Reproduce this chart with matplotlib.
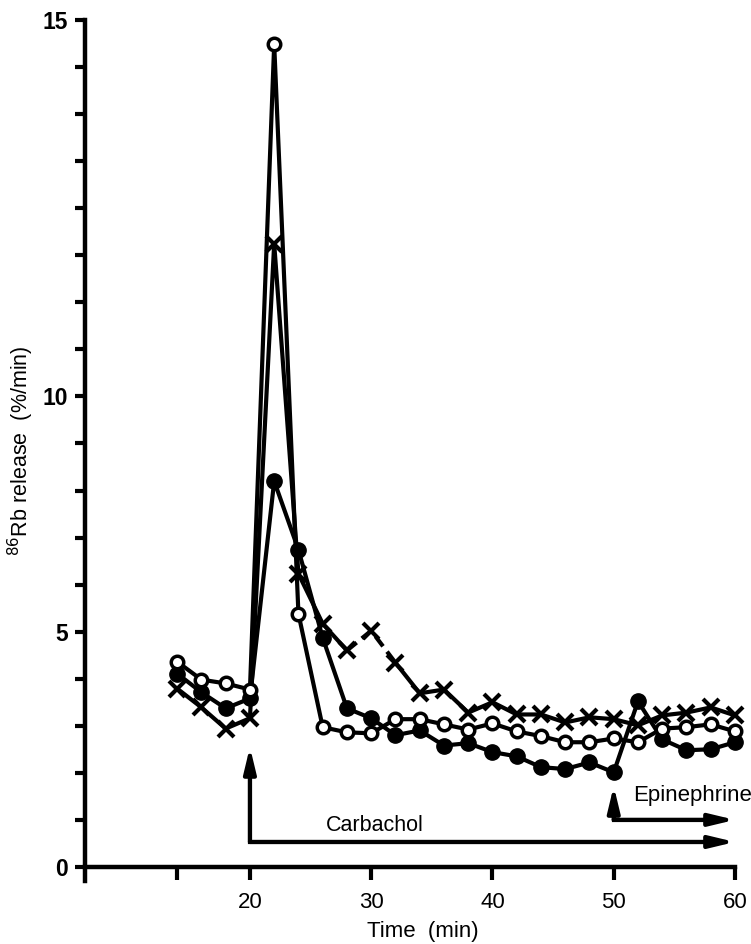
import numpy as np
import matplotlib.pyplot as plt

plt.rcParams['font.family'] = ['Liberation Sans', 'DejaVu Sans']

# Time points (min)
t = [14, 16, 18, 20, 22, 24, 26, 28, 30, 32, 34, 36, 38, 40, 42, 44, 46, 48, 50, 52, 54, 56, 58, 60]

# 86Rb release (%/min) for the three conditions
open_rel = [4.36, 3.98, 3.90, 3.77, 14.68, 5.38, 2.97, 2.86, 2.84, 3.14, 3.14, 3.03,
            2.92, 3.05, 2.88, 2.78, 2.65, 2.65, 2.73, 2.65, 2.94, 2.97, 3.03, 2.88]
filled_rel = [4.11, 3.71, 3.37, 3.58, 8.20, 6.74, 4.87, 3.37, 3.16, 2.80, 2.90, 2.58,
              2.63, 2.44, 2.35, 2.12, 2.08, 2.22, 2.01, 3.52, 2.71, 2.48, 2.50, 2.65]
cross_rel = [3.79, 3.39, 2.94, 3.16, 12.03, 6.23, 5.17, 4.60, 5.02, 4.34, 3.69, 3.77,
             3.28, 3.50, 3.24, 3.24, 3.07, 3.18, 3.14, 3.01, 3.22, 3.28, 3.39, 3.22]

# the upper part of the axis (above 10) is stretched
def fwd(v):
    v = np.asarray(v, dtype=float)
    return np.where(v <= 10, v, 10 + (v - 10) * 1.6)

def inv(v):
    v = np.asarray(v, dtype=float)
    return np.where(v <= 10, v, 10 + (v - 10) / 1.6)

fig = plt.figure(figsize=(7.51, 9.44), dpi=100)
ax = fig.add_axes([0.1132, 0.0667, 0.8655, 0.9121])
ax.set_yscale('function', functions=(fwd, inv))
ax.set_xlim(6.4, 60)
ax.set_ylim(-0.3, 15)

lw = 3
ax.plot(t, open_rel, color='black', lw=lw, marker='o', ms=9, mfc='white', mec='black',
        mew=2.5, zorder=4, clip_on=False)
ax.plot(t, filled_rel, color='black', lw=lw, marker='o', ms=11, mfc='black', mec='black',
        zorder=3, clip_on=False)

# crosses: dashed between 28 and 32 min
i28, i32 = t.index(28), t.index(32)
ax.plot(t[:i28 + 1], cross_rel[:i28 + 1], color='black', lw=lw, zorder=3, clip_on=False)
ax.plot(t[i28:i32 + 1], cross_rel[i28:i32 + 1], color='black', lw=lw, ls=(0, (3, 1.6)),
        zorder=3, clip_on=False)
ax.plot(t[i32:], cross_rel[i32:], color='black', lw=lw, zorder=3, clip_on=False)
ax.plot(t, cross_rel, ls='none', marker='x', ms=11, mec='black', mew=3, zorder=5,
        clip_on=False)

# drug addition arrows
head = '-|>,head_length=1.5,head_width=0.36'
ax.plot([20, 20, 59], [2.2, 0.53, 0.53], color='black', lw=lw, solid_joinstyle='miter')
ax.annotate('', xy=(20, 2.55), xytext=(20, 0.53),
            arrowprops=dict(arrowstyle=head, lw=lw, color='black', shrinkA=0, shrinkB=0))
ax.annotate('', xy=(60, 0.53), xytext=(20, 0.53), annotation_clip=False,
            arrowprops=dict(arrowstyle=head, lw=lw, color='black', shrinkA=0, shrinkB=0))
ax.plot([50, 50, 59], [1.4, 1.0, 1.0], color='black', lw=lw, solid_joinstyle='miter')
ax.annotate('', xy=(50, 1.72), xytext=(50, 1.0),
            arrowprops=dict(arrowstyle=head, lw=lw, color='black', shrinkA=0, shrinkB=0))
ax.annotate('', xy=(60, 1.0), xytext=(50, 1.0), annotation_clip=False,
            arrowprops=dict(arrowstyle=head, lw=lw, color='black', shrinkA=0, shrinkB=0))
ax.text(30.3, 0.89, 'Carbachol', fontsize=15.5, ha='center', va='center')
ax.text(51.6, 1.52, 'Epinephrine', fontsize=16, ha='left', va='center', clip_on=False)

# axes
for s in ['top', 'right']:
    ax.spines[s].set_visible(False)
ax.spines['bottom'].set_position(('data', 0))
ax.spines['left'].set_linewidth(3.2)
ax.spines['bottom'].set_linewidth(3.2)

yt = [0, 1, 2, 3, 4, 5, 6, 7, 8, 9, 10] + [10 + 0.625 * k for k in range(1, 9)]
ylab = ['0', '', '', '', '', '5', '', '', '', '', '10'] + [''] * 7 + ['15']
yt[-1] = 15
ax.set_yticks(yt, ylab)
ax.tick_params(axis='y', direction='out', length=7.5, width=3, pad=5, labelsize=16.5)
for lab in ax.get_yticklabels():
    lab.set_fontweight('bold')

ax.set_xticks([14, 20, 30, 40, 50, 60], ['', '20', '30', '40', '50', '60'])
ax.tick_params(axis='x', direction='out', length=9, width=3, pad=9, labelsize=16)

ax.set_xlabel('Time  (min)', fontsize=16)
ax.xaxis.set_label_coords(0.52, -0.046)
ax.set_ylabel(r'$^{86}$Rb release  (%/min)', fontsize=15.5)
ax.yaxis.set_label_coords(-0.075, 0.5)

fig.savefig('out.png', dpi=100)
